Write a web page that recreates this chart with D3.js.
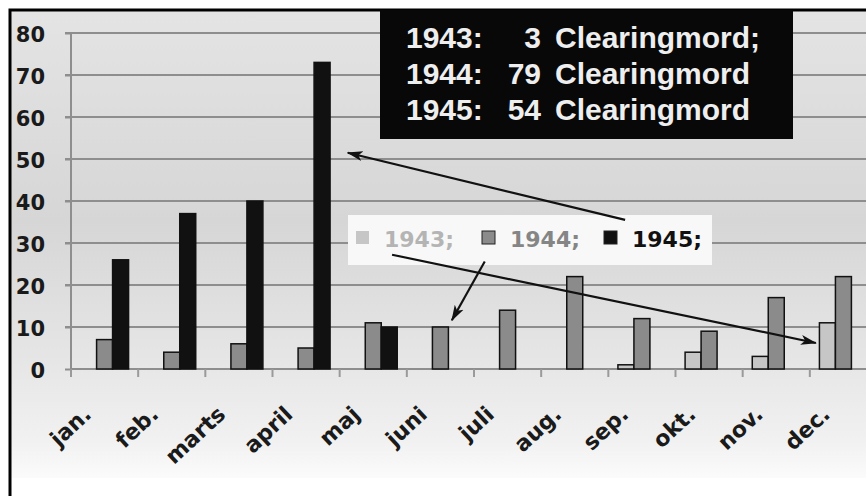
<!DOCTYPE html>
<html>
<head>
<meta charset="utf-8">
<script src="https://cdn.jsdelivr.net/npm/d3@7"></script>
<style>
  html, body { margin: 0; padding: 0; background: #fff; }
  svg { display: block; }
</style>
</head>
<body>
<div id="chart"></div>
<script>
// data
const months = ['jan.', 'feb.', 'marts', 'april', 'maj', 'juni', 'juli', 'aug.', 'sep.', 'okt.', 'nov.', 'dec.'];
const years = ['1943', '1944', '1945'];
const v1943 = [0, 0, 0, 0, 0, 0, 0, 0, 1, 4, 3, 11];
const v1944 = [7, 4, 6, 5, 11, 10, 14, 22, 12, 9, 17, 22];
const v1945 = [26, 37, 40, 73, 10, 0, 0, 0, 0, 0, 0, 0];
const yTicks = [0, 10, 20, 30, 40, 50, 60, 70, 80];
const totals = [['1943:', '3', 'Clearingmord;'], ['1944:', '79', 'Clearingmord'], ['1945:', '54', 'Clearingmord']];
// arrows: [month position, value] start -> tip
const arrows = [
  [[8.25, 35.5], [4.12, 51.5]],
  [[4.78, 27.2], [11.09, 6.2]],
  [[6.16, 25.6], [5.67, 11.6]],
];

const width = 866, height = 496;
const fills = { '1943': '#c6c6c6', '1944': '#8b8b8b', '1945': '#111' };
const textFills = { '1943': '#b4b4b4', '1944': '#858585', '1945': '#111' };

const svg = d3.select('#chart').append('svg')
  .attr('width', width)
  .attr('height', height);

const defs = svg.append('defs');
const bg = defs.append('linearGradient').attr('id', 'bg').attr('x1', 0).attr('y1', 0).attr('x2', 0).attr('y2', 1);
bg.append('stop').attr('offset', '0%').attr('stop-color', '#e4e4e4');
bg.append('stop').attr('offset', '45%').attr('stop-color', '#d6d6d6');
bg.append('stop').attr('offset', '75%').attr('stop-color', '#e6e6e6');
bg.append('stop').attr('offset', '92%').attr('stop-color', '#f1f1f1');
bg.append('stop').attr('offset', '100%').attr('stop-color', '#fbfbfb');

defs.append('marker')
  .attr('id', 'head')
  .attr('viewBox', '0 -6 16 12')
  .attr('refX', 15).attr('refY', 0)
  .attr('markerWidth', 16).attr('markerHeight', 12)
  .attr('markerUnits', 'userSpaceOnUse')
  .attr('orient', 'auto')
  .append('path')
  .attr('d', 'M0,-5L16,0L0,5L4,0Z')
  .attr('fill', '#111');

// frame and shaded background
svg.append('rect').attr('x', 10).attr('y', 10).attr('width', 880).attr('height', 500)
  .attr('fill', '#fff');
svg.append('rect').attr('x', 11).attr('y', 11).attr('width', 880).attr('height', 467)
  .attr('fill', 'url(#bg)');
svg.append('rect').attr('x', 10).attr('y', 10).attr('width', 880).attr('height', 500)
  .attr('fill', 'none').attr('stroke', '#000').attr('stroke-width', 3);

const x = d3.scaleBand().domain(months).range([71, 877]).paddingInner(0).paddingOuter(0);
const xs = d3.scaleBand().domain(years).range([0, x.bandwidth()]).paddingInner(0).paddingOuter(0.6);
const xc = d3.scaleLinear().domain([0, 12]).range([71, 877]);
const y = d3.scaleLinear().domain([0, 80]).range([369, 33]);

// gridlines
svg.append('g')
  .selectAll('line')
  .data(yTicks.filter(d => d > 0))
  .join('line')
  .attr('x1', 65).attr('x2', 877)
  .attr('y1', d => y(d)).attr('y2', d => y(d))
  .attr('stroke', '#8e8e8e').attr('stroke-width', 2);

// y axis
const yAxis = svg.append('g')
  .attr('transform', 'translate(71,0)')
  .call(d3.axisLeft(y).tickValues(yTicks).tickSize(6).tickPadding(20));
yAxis.select('.domain').attr('stroke', '#8e8e8e').attr('stroke-width', 2).attr('d', `M0,${y(80)}V${y(0)}`);
yAxis.selectAll('.tick line').attr('stroke', '#8e8e8e').attr('stroke-width', 2);
yAxis.selectAll('.tick text')
  .attr('font-family', 'DejaVu Sans').attr('font-weight', 'bold').attr('font-size', 21)
  .attr('fill', '#1a1a1a').attr('dy', '0.42em');

// x axis
const xAxis = svg.append('g')
  .attr('transform', `translate(0,${y(0)})`)
  .call(d3.axisBottom(x).tickSize(0).tickPadding(0));
xAxis.select('.domain').attr('stroke', '#8e8e8e').attr('stroke-width', 2).attr('d', 'M71,0H877');
xAxis.selectAll('.tick text')
  .attr('font-family', 'DejaVu Sans').attr('font-weight', 'bold').attr('font-size', 22)
  .attr('fill', '#1a1a1a')
  .attr('text-anchor', 'end')
  .attr('dy', 0)
  .attr('transform', 'translate(-12,47) rotate(-43)');
// boundary ticks between months
svg.append('g')
  .selectAll('line')
  .data(months)
  .join('line')
  .attr('x1', d => x(d)).attr('x2', d => x(d))
  .attr('y1', y(0)).attr('y2', y(0) + 8)
  .attr('stroke', '#9a9a9a').attr('stroke-width', 2);

// bars
const rows = months.map((m, i) => ({ month: m, '1943': v1943[i], '1944': v1944[i], '1945': v1945[i] }));
svg.append('g')
  .selectAll('g')
  .data(rows)
  .join('g')
  .attr('transform', d => `translate(${x(d.month)},0)`)
  .selectAll('rect')
  .data(d => years.map(k => ({ key: k, value: d[k] })).filter(e => e.value > 0))
  .join('rect')
  .attr('x', d => xs(d.key))
  .attr('width', xs.bandwidth())
  .attr('y', d => y(d.value))
  .attr('height', d => y(0) - y(d.value))
  .attr('fill', d => fills[d.key])
  .attr('stroke', '#111')
  .attr('stroke-width', 1.5);

// legend box
const legend = svg.append('g');
legend.append('rect').attr('x', 348).attr('y', 215).attr('width', 364).attr('height', 50)
  .attr('fill', '#f8f8f8');
const legX = [356, 482, 604];
const legItems = legend.selectAll('g')
  .data(years)
  .join('g')
  .attr('transform', (d, i) => `translate(${legX[i]},0)`);
legItems.append('rect')
  .attr('x', 0).attr('y', 231).attr('width', 13).attr('height', 13)
  .attr('fill', d => fills[d]).attr('stroke', d => d === '1943' ? 'none' : '#222');
legItems.append('text')
  .attr('x', 28).attr('y', 247)
  .attr('font-family', 'DejaVu Sans').attr('font-weight', 'bold').attr('font-size', 22)
  .attr('fill', d => textFills[d])
  .text(d => d + ';');

// arrows
svg.append('g')
  .selectAll('line')
  .data(arrows)
  .join('line')
  .attr('x1', d => xc(d[0][0])).attr('y1', d => y(d[0][1]))
  .attr('x2', d => xc(d[1][0])).attr('y2', d => y(d[1][1]))
  .attr('stroke', '#111').attr('stroke-width', 2.2)
  .attr('marker-end', 'url(#head)');

// totals box
const box = svg.append('g');
box.append('rect').attr('x', 380).attr('y', 10).attr('width', 413).attr('height', 129)
  .attr('fill', '#080808');
const lines = box.selectAll('text')
  .data(totals)
  .join('text')
  .attr('font-family', 'Liberation Sans, Arial, sans-serif').attr('font-weight', 'bold').attr('font-size', 30)
  .attr('fill', '#eeeeee')
  .attr('y', (d, i) => 48 + i * 36);
lines.append('tspan').attr('x', 406).text(d => d[0]);
lines.append('tspan').attr('x', 541).attr('text-anchor', 'end').text(d => d[1]);
lines.append('tspan').attr('x', 555).attr('text-anchor', 'start').text(d => d[2]);
</script>
</body>
</html>
